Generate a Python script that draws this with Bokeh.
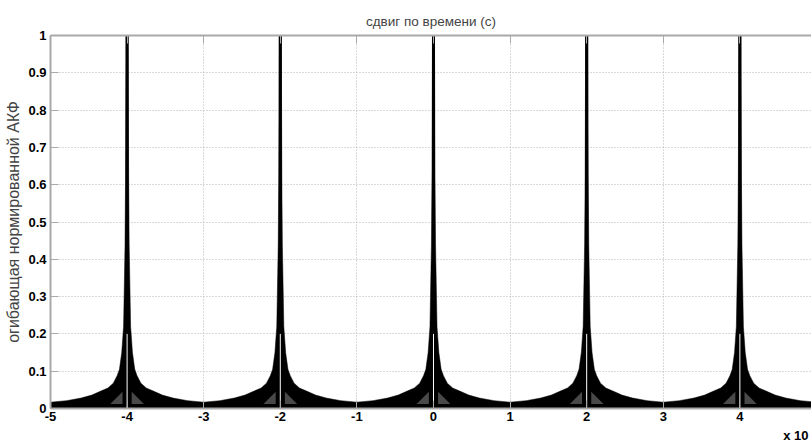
from bokeh.plotting import figure
from bokeh.models import Range1d, LinearAxis, FixedTicker, Title
from bokeh.embed import file_html
from bokeh.resources import INLINE

# ---------------- data ----------------
peak_centers = [-4, -2, 0, 2, 4]
# upper envelope of the dense oscillation around each peak (offset from centre, height)
env_offsets = [0.0, 0.013, 0.02, 0.027, 0.046, 0.07, 0.1, 0.13, 0.18, 0.25, 0.35, 0.46, 0.6, 0.79, 1.0]
env_heights = [1.0, 1.0, 0.62, 0.44, 0.22, 0.15, 0.105, 0.088, 0.068, 0.055, 0.046, 0.036, 0.028, 0.021, 0.017]
baseline_level = 0.011
# lighter streaks inside the filled base on each side of a peak
streak_offsets = [0.06, 0.06, 0.22]
streak_heights = [0.012, 0.045, 0.012]
center_gap_top = 0.2

x_min, x_max = -5, 4.935
x_ticks = [-5, -4, -3, -2, -1, 0, 1, 2, 3, 4]
x_tick_labels = ["-5", "-4", "-3", "-2", "-1", "0", "1", "2", "3", "4"]
y_ticks = [0, 0.1, 0.2, 0.3, 0.4, 0.5, 0.6, 0.7, 0.8, 0.9, 1]
y_tick_labels = ["0", "0.1", "0.2", "0.3", "0.4", "0.5", "0.6", "0.7", "0.8", "0.9", "1"]

title_text = "сдвиг по времени (с)"
ylabel_text = "огибающая нормированной АКФ"
scale_text = "x 10"

FONT = "Liberation Sans"
AXIS_COLOR = "#a9a9a9"

p = figure(width=811, height=444, x_range=Range1d(x_min, x_max), y_range=Range1d(0, 1),
           output_backend="svg", toolbar_location=None,
           min_border_left=50, min_border_right=0, min_border_top=35, min_border_bottom=35,
           x_axis_location=None, y_axis_location=None)
p.outline_line_color = None
p.background_fill_color = "white"
p.border_fill_color = "white"


def style_axis(ax, show_labels=True):
    ax.axis_line_color = AXIS_COLOR
    ax.axis_line_width = 2
    ax.major_tick_line_color = AXIS_COLOR
    ax.major_tick_line_width = 1
    ax.major_tick_in = 8
    ax.major_tick_out = 0
    ax.minor_tick_line_color = None
    ax.major_label_text_font = FONT
    ax.major_label_text_font_style = "bold"
    ax.major_label_text_font_size = "13px"
    ax.major_label_text_color = "black" if show_labels else None
    ax.major_label_standoff = 4


left = LinearAxis(ticker=FixedTicker(ticks=y_ticks),
                  major_label_overrides={t: l for t, l in zip(y_ticks, y_tick_labels)})
style_axis(left)
left.axis_label = ylabel_text
left.axis_label_text_font = FONT
left.axis_label_text_font_style = "normal"
left.axis_label_text_font_size = "16px"
left.axis_label_standoff = 3
p.add_layout(left, "left")

below = LinearAxis(ticker=FixedTicker(ticks=x_ticks),
                   major_label_overrides={t: l for t, l in zip(x_ticks, x_tick_labels)})
style_axis(below)
below.major_label_standoff = 3
p.add_layout(below, "below")

above = LinearAxis(ticker=FixedTicker(ticks=x_ticks))
style_axis(above, show_labels=False)
above.major_label_text_font_size = "0px"
above.major_label_standoff = 0
above.axis_label = title_text
above.axis_label_text_font = FONT
above.axis_label_text_font_style = "normal"
above.axis_label_text_font_size = "13.5px"
above.axis_label_standoff = 7
p.add_layout(above, "above")

# grid
p.xgrid.ticker = FixedTicker(ticks=x_ticks)
p.ygrid.ticker = FixedTicker(ticks=y_ticks)
for g in (p.xgrid, p.ygrid):
    g.grid_line_color = "#b4b4b4"
    g.grid_line_dash = "1 2"
    g.grid_line_width = 1

# baseline band
p.varea(x=[x_min, x_max], y1=[0, 0], y2=[baseline_level, baseline_level], fill_color="black")

# peak envelopes
xs, ys = [], []
for c in peak_centers:
    left_x = [c - o for o in reversed(env_offsets)]
    left_y = list(reversed(env_heights))
    right_x = [c + o for o in env_offsets]
    right_y = list(env_heights)
    xs.append([c - env_offsets[-1]] + left_x + right_x + [c + env_offsets[-1]])
    ys.append([0] + left_y + right_y + [0])
p.patches(xs, ys, fill_color="black", line_color="black", line_width=0.5)

# spikes
p.segment(x0=peak_centers, y0=[0] * len(peak_centers), x1=peak_centers,
          y1=[env_heights[0]] * len(peak_centers), line_color="black", line_width=3)

# lighter streaks
sx, sy = [], []
for c in peak_centers:
    sx.append([c - o for o in streak_offsets]); sy.append(list(streak_heights))
    sx.append([c + o for o in streak_offsets]); sy.append(list(streak_heights))
p.patches(sx, sy, fill_color="#7a7a7a", fill_alpha=0.6, line_color=None)

# white centre line inside the spike base
p.segment(x0=peak_centers, y0=[0] * len(peak_centers), x1=peak_centers,
          y1=[center_gap_top] * len(peak_centers), line_color="white", line_width=1)

# scale factor under the x axis, right-aligned
p.add_layout(Title(text=scale_text, align="right", offset=3, standoff=4,
                   text_font=FONT, text_font_size="13px", text_font_style="bold",
                   text_color="black"), "below")

open("out.html", "w").write(file_html(p, INLINE))
